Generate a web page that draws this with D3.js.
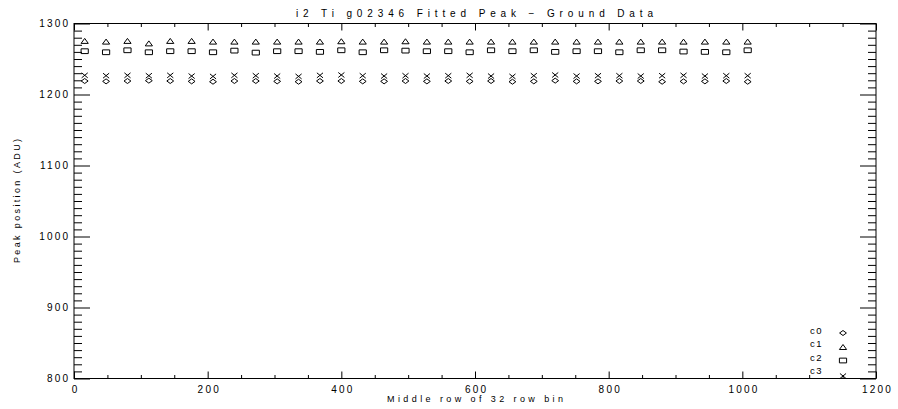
<!DOCTYPE html>
<html>
<head>
<meta charset="utf-8">
<script src="https://cdn.jsdelivr.net/npm/d3@7"></script>
<style>
  html, body { margin: 0; padding: 0; background: #fff; }
  svg { display: block; }
  text { font-family: "Liberation Sans", "DejaVu Sans", sans-serif; fill: #000; }
</style>
</head>
<body>
<svg id="chart" width="898" height="409"></svg>
<script>
// ---------------- data ----------------
const title = "i2 Ti g02346 Fitted Peak \u2212 Ground Data";
const xTitle = "Middle row of 32 row bin";
const yTitle = "Peak position (ADU)";

const rows = [16, 48, 80, 112, 144, 176, 208, 240, 272, 304, 336, 368, 400, 432, 464, 496,
              528, 560, 592, 624, 656, 688, 720, 752, 784, 816, 848, 880, 912, 944, 976, 1008];

const c0 = [1219, 1218.5, 1219, 1219.5, 1219, 1218.5, 1218, 1219, 1219, 1218.5, 1218, 1219, 1219, 1218.5, 1218.5, 1219,
            1218.5, 1219, 1218.5, 1219, 1218, 1218.5, 1219.5, 1218.5, 1218.5, 1219, 1219, 1218, 1218.5, 1218.5, 1219, 1218];
const c1 = [1275.5, 1274.5, 1275.5, 1272, 1275.5, 1275.5, 1274.5, 1274.5, 1274.5, 1274.5, 1274.5, 1274.5, 1275, 1274.5, 1274.5, 1275,
            1274.5, 1274.5, 1274.5, 1274.5, 1274.5, 1274.5, 1274.5, 1274.5, 1274.5, 1274.5, 1274.5, 1274.5, 1274.5, 1274.5, 1274.5, 1274.5];
const c2 = [1261, 1259.5, 1262.3, 1259.5, 1261, 1261, 1259.5, 1261.8, 1259, 1261, 1261, 1260, 1262.3, 1259.5, 1262.3, 1261.8,
            1261, 1261, 1259.5, 1262.3, 1261, 1262.3, 1260, 1261, 1261, 1259.5, 1262.3, 1262.3, 1260.5, 1260, 1259.5, 1262.3];
const c3 = [1227, 1226.5, 1227, 1226.5, 1227, 1226, 1225.5, 1227, 1226.5, 1226, 1225.5, 1227, 1227.5, 1226.5, 1226, 1226.5,
            1226, 1226.5, 1227, 1226, 1225.5, 1226.5, 1227.5, 1226, 1226.5, 1226.5, 1226, 1226.5, 1227, 1226, 1226.5, 1226.5];

const seriesNames = ["c0", "c1", "c2", "c3"];
const seriesSymbols = ["diamond", "triangle", "square", "cross"];
const seriesValues = [c0, c1, c2, c3];

const xDomain = [0, 1200];
const yDomain = [800, 1300];
const xMajorTicks = [0, 200, 400, 600, 800, 1000, 1200];
const yMajorTicks = [800, 900, 1000, 1100, 1200, 1300];

// ---------------- layout ----------------
const L = 74, R = 876, T = 23.5, B = 378.5;
const svg = d3.select("#chart");
const x = d3.scaleLinear().domain(xDomain).range([L, R]);
const y = d3.scaleLinear().domain(yDomain).range([B, T]);

const xMinor = d3.range(xDomain[0], xDomain[1] + 1, 50).filter(v => !xMajorTicks.includes(v));
const yMinor = d3.range(yDomain[0], yDomain[1] + 1, 10).filter(v => !yMajorTicks.includes(v));

function styleAxis(g) {
  g.select(".domain").remove();
  g.selectAll(".tick line").attr("stroke", "#000").attr("stroke-width", 1);
}

// bottom axis (labels)
svg.append("g").attr("transform", `translate(0,${B})`)
  .call(d3.axisBottom(x).tickValues(xMajorTicks).tickSize(-7).tickPadding(7.5).tickFormat(d3.format("d")))
  .call(styleAxis)
  .call(g => g.selectAll("text").attr("font-size", 10).attr("letter-spacing", "2.2px").attr("dx", "1.1px")
      .attr("font-family", "Liberation Sans").attr("fill", "#000"));
svg.append("g").attr("transform", `translate(0,${B})`)
  .call(d3.axisBottom(x).tickValues(xMinor).tickSize(-3.5).tickFormat(""))
  .call(styleAxis);
// top axis
svg.append("g").attr("transform", `translate(0,${T})`)
  .call(d3.axisTop(x).tickValues(xMajorTicks).tickSize(-7).tickFormat(""))
  .call(styleAxis);
svg.append("g").attr("transform", `translate(0,${T})`)
  .call(d3.axisTop(x).tickValues(xMinor).tickSize(-3.5).tickFormat(""))
  .call(styleAxis);
// left axis
svg.append("g").attr("transform", `translate(${L},0)`)
  .call(d3.axisLeft(y).tickValues(yMajorTicks).tickSize(-16).tickPadding(6).tickFormat(d3.format("d")))
  .call(styleAxis)
  .call(g => g.selectAll("text").attr("font-size", 10).attr("letter-spacing", "2.2px").attr("dx", "2.2px")
      .attr("font-family", "Liberation Sans").attr("fill", "#000"));
svg.append("g").attr("transform", `translate(${L},0)`)
  .call(d3.axisLeft(y).tickValues(yMinor).tickSize(-8).tickFormat(""))
  .call(styleAxis);
// right axis
svg.append("g").attr("transform", `translate(${R},0)`)
  .call(d3.axisRight(y).tickValues(yMajorTicks).tickSize(-16).tickFormat(""))
  .call(styleAxis);
svg.append("g").attr("transform", `translate(${R},0)`)
  .call(d3.axisRight(y).tickValues(yMinor).tickSize(-8).tickFormat(""))
  .call(styleAxis);

// frame
svg.append("rect").attr("x", L).attr("y", T).attr("width", R - L).attr("height", B - T)
  .attr("fill", "none").attr("stroke", "#000").attr("stroke-width", 1);

// ---------------- symbols ----------------
const sw = 3.6, sh = 2.5;
const symbolPaths = {
  diamond: `M${-sw * 0.95},0L0,${-sh}L${sw * 0.95},0L0,${sh}Z`,
  triangle: `M${-sw},${sh}L0,${-sh}L${sw},${sh}Z`,
  square: `M${-sw},${-sh * 0.95}H${sw}V${sh * 0.95}H${-sw}Z`,
  cross: `M${-sw * 0.85},${-sh}L${sw * 0.85},${sh}M${-sw * 0.85},${sh}L${sw * 0.85},${-sh}`
};

const plot = svg.append("g");
seriesValues.forEach((vals, si) => {
  plot.append("g").selectAll("path")
    .data(rows.map((r, i) => [r, vals[i]]))
    .join("path")
    .attr("transform", d => `translate(${x(d[0])},${y(d[1])})`)
    .attr("d", symbolPaths[seriesSymbols[si]])
    .attr("fill", "none").attr("stroke", "#000").attr("stroke-width", 1);
});

// ---------------- legend ----------------
const legendBase = [334, 346.5, 360.5, 374];
const legendSym = [333, 347, 360.5, 376];
const lg = svg.append("g");
seriesNames.forEach((n, i) => {
  lg.append("text").attr("x", 810).attr("y", legendBase[i]).attr("font-size", 9.5)
    .attr("letter-spacing", "1.5px").text(n);
  lg.append("path").attr("transform", `translate(843,${legendSym[i]})`)
    .attr("d", symbolPaths[seriesSymbols[i]])
    .attr("fill", "none").attr("stroke", "#000").attr("stroke-width", 1);
});

// ---------------- titles ----------------
svg.append("text").attr("x", 474.5).attr("y", 17).attr("text-anchor", "middle")
  .attr("font-size", 10).attr("textLength", 357).attr("lengthAdjust", "spacing").text(title);
svg.append("text").attr("x", 475).attr("y", 401.7).attr("text-anchor", "middle")
  .attr("font-size", 9).attr("textLength", 176).attr("lengthAdjust", "spacing").text(xTitle);
svg.append("text").attr("transform", "translate(20,201) rotate(-90)").attr("text-anchor", "middle")
  .attr("font-size", 9).attr("textLength", 124).attr("lengthAdjust", "spacing").text(yTitle);
</script>
</body>
</html>
